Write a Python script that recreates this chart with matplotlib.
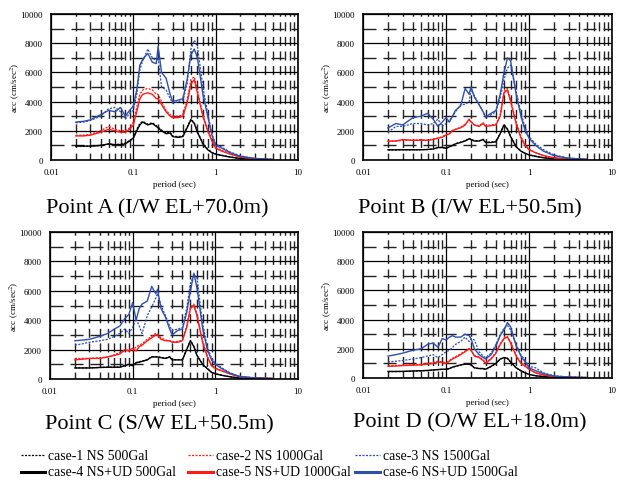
import matplotlib
matplotlib.use("Agg")
import matplotlib.pyplot as plt
from matplotlib.ticker import MultipleLocator, FixedLocator, NullFormatter, FixedFormatter
from matplotlib.lines import Line2D

plt.rcParams['font.family'] = ['Liberation Serif', 'DejaVu Serif']
plt.rcParams['mathtext.fontset'] = 'stix'
plt.rcParams['lines.scale_dashes'] = False

# Periods (sec)
period = [0.02, 0.025, 0.03, 0.04, 0.05, 0.06, 0.07, 0.08, 0.09, 0.1, 0.11, 0.12, 0.13, 0.15,
          0.17, 0.19, 0.2, 0.22, 0.25, 0.28, 0.3, 0.35, 0.4, 0.45, 0.5, 0.55, 0.6, 0.7, 0.8,
          0.9, 1.0, 1.2, 1.5, 2.0, 3.0, 5.0]

# ---- Point A ----
A_case1 = [1000, 950, 950, 1000, 1100, 1050, 1100, 1150, 1350, 1500, 2100, 2500, 2650, 2450, 2550, 2350, 2250, 2050, 1850, 1900, 1650, 1600, 1650, 2250, 2800, 2550, 1950, 1150, 750, 520, 420, 320, 210, 100, 40, 15]
A_case4 = [950, 950, 950, 1000, 1100, 1050, 1050, 1100, 1300, 1500, 2000, 2400, 2600, 2400, 2500, 2300, 2200, 2000, 1800, 1850, 1600, 1550, 1600, 2200, 2750, 2500, 1900, 1100, 700, 500, 400, 300, 200, 100, 40, 15]
A_case2 = [1700, 1700, 1750, 2000, 2300, 2100, 2000, 2000, 2200, 2600, 3600, 4500, 4800, 4900, 4800, 4500, 4500, 4000, 3400, 3100, 3000, 3000, 3100, 4100, 5500, 5700, 4800, 3100, 2100, 1400, 850, 650, 420, 210, 80, 30]
A_case5 = [1650, 1650, 1700, 1900, 2100, 2000, 1900, 1900, 2100, 2400, 3300, 4200, 4500, 4600, 4500, 4200, 4200, 3800, 3300, 3000, 2900, 2900, 3000, 3900, 5200, 5500, 4600, 3000, 2000, 1300, 800, 600, 400, 200, 80, 30]
A_case3 = [2550, 2600, 2700, 3000, 3500, 3600, 3300, 2800, 3200, 3400, 4500, 6200, 6800, 7600, 7000, 6800, 7000, 5000, 4800, 4200, 3900, 4000, 4100, 5200, 7600, 8200, 7800, 5000, 3200, 1800, 1100, 850, 550, 280, 110, 40]
A_case6 = [2600, 2650, 2750, 3100, 3400, 3300, 3600, 3000, 3400, 3700, 4800, 6500, 6900, 7300, 6700, 6600, 7800, 6000, 5600, 4500, 4000, 4100, 4200, 5500, 7200, 7600, 7000, 4500, 3000, 1700, 1000, 800, 500, 250, 100, 40]

# ---- Point B ----
B_case1 = [680, 690, 700, 700, 710, 720, 760, 860, 870, 820, 900, 1020, 1120, 1220, 1320, 1470, 1420, 1320, 1310, 1420, 1220, 1220, 1270, 1830, 2420, 2130, 1620, 920, 620, 460, 360, 260, 160, 80, 40, 20]
B_case4 = [700, 700, 700, 700, 700, 720, 750, 850, 850, 800, 900, 1000, 1100, 1200, 1300, 1450, 1400, 1300, 1300, 1400, 1200, 1200, 1250, 1800, 2400, 2100, 1600, 900, 600, 450, 350, 250, 150, 80, 40, 20]
B_case2 = [1250, 1300, 1350, 1350, 1400, 1350, 1450, 1500, 1600, 1750, 1800, 2050, 2100, 2250, 2450, 2750, 2650, 2400, 2350, 2550, 2350, 2400, 2450, 3100, 4700, 4900, 4100, 2600, 1600, 1050, 750, 500, 300, 150, 70, 40]
B_case5 = [1300, 1300, 1400, 1350, 1350, 1350, 1400, 1500, 1550, 1700, 1800, 2000, 2100, 2200, 2400, 2800, 2600, 2400, 2300, 2500, 2300, 2350, 2400, 3000, 4600, 4800, 4000, 2500, 1500, 1000, 700, 500, 300, 150, 70, 40]
B_case3 = [1900, 2300, 2300, 2500, 2500, 2400, 2500, 2800, 2300, 2500, 2700, 3000, 3300, 3800, 3800, 4000, 4800, 4400, 3800, 3300, 2900, 3100, 3300, 4300, 5500, 6300, 6500, 4700, 3200, 2200, 1600, 1100, 700, 350, 130, 50]
B_case6 = [2200, 2500, 2400, 2900, 3000, 3200, 2800, 2300, 2600, 2900, 2600, 3000, 3400, 3700, 4900, 4500, 5000, 4300, 3800, 3300, 2950, 3200, 3400, 4500, 6000, 7000, 6800, 4500, 3000, 2000, 1500, 1000, 600, 300, 120, 50]

# ---- Point C ----
C_case1 = [760, 760, 760, 790, 810, 810, 820, 920, 1020, 920, 1120, 1170, 1220, 1320, 1520, 1520, 1520, 1470, 1420, 1520, 1320, 1320, 1320, 2020, 2620, 2220, 1620, 1020, 720, 460, 360, 260, 150, 60, 30, 20]
C_case4 = [750, 750, 750, 780, 800, 800, 800, 900, 1000, 900, 1100, 1150, 1200, 1300, 1500, 1500, 1500, 1450, 1400, 1500, 1300, 1300, 1300, 2000, 2600, 2200, 1600, 1000, 700, 450, 350, 250, 150, 60, 30, 20]
C_case2 = [1400, 1400, 1400, 1450, 1500, 1650, 1800, 1900, 2000, 1900, 2200, 2300, 2400, 2700, 2900, 3100, 3050, 2800, 2650, 2600, 2550, 2550, 2650, 3600, 4900, 5100, 4400, 2600, 1550, 950, 750, 550, 350, 150, 70, 40]
C_case5 = [1300, 1350, 1400, 1400, 1500, 1600, 1700, 2000, 1900, 2100, 1900, 2200, 2300, 2600, 2800, 3000, 3000, 2700, 2600, 2600, 2500, 2500, 2600, 3500, 4800, 5000, 4300, 2500, 1500, 900, 700, 550, 350, 150, 70, 40]
C_case3 = [2300, 2400, 2500, 2600, 2700, 2900, 3100, 3400, 3100, 3500, 4100, 3600, 3100, 4300, 4900, 5500, 5800, 5000, 4300, 3600, 3300, 3400, 3500, 4800, 6500, 7100, 6900, 3800, 2200, 1400, 1100, 750, 420, 160, 80, 30]
C_case6 = [2600, 2650, 2700, 2900, 3100, 3400, 3600, 4100, 4400, 5200, 4000, 4800, 5100, 5300, 6300, 5800, 6100, 4800, 4200, 3400, 3000, 3300, 3400, 4500, 6000, 7200, 6200, 3500, 2000, 1300, 1000, 700, 400, 150, 80, 30]

# ---- Point D ----
D_case1 = [430, 440, 450, 470, 490, 510, 540, 570, 590, 590, 640, 740, 790, 890, 940, 940, 890, 690, 640, 640, 590, 790, 990, 1290, 1390, 1340, 1090, 690, 490, 340, 240, 150, 100, 50, 20, 10]
D_case4 = [450, 450, 450, 480, 500, 520, 550, 580, 600, 600, 650, 750, 800, 900, 950, 950, 900, 700, 650, 650, 600, 800, 1000, 1300, 1400, 1350, 1100, 700, 500, 350, 250, 150, 100, 50, 20, 10]
D_case2 = [850, 860, 880, 900, 950, 1000, 1050, 1150, 1100, 1050, 1200, 1350, 1450, 1650, 1850, 2000, 1950, 1550, 1450, 1250, 1050, 1350, 1750, 2350, 2750, 2850, 2450, 1550, 1050, 820, 620, 360, 210, 100, 50, 30]
D_case5 = [800, 820, 850, 880, 900, 950, 1000, 1100, 1050, 1000, 1150, 1300, 1400, 1600, 1800, 2000, 1900, 1500, 1400, 1200, 1000, 1300, 1700, 2300, 2700, 2800, 2400, 1500, 1000, 800, 600, 350, 200, 100, 50, 30]
D_case3 = [1100, 1150, 1200, 1300, 1400, 1500, 1600, 1400, 1600, 1800, 1900, 2100, 2300, 2500, 2800, 2500, 2700, 2600, 1800, 1500, 1400, 1700, 2300, 3000, 3400, 3600, 3300, 2300, 1600, 1200, 800, 700, 350, 150, 70, 30]
D_case6 = [1500, 1600, 1700, 1900, 2000, 2300, 2400, 2100, 2700, 2600, 2800, 2900, 2800, 2800, 3000, 2900, 2700, 2000, 1600, 1400, 1300, 1600, 2200, 2900, 3300, 3800, 3500, 2200, 1500, 1100, 700, 500, 300, 130, 70, 30]

titles = ["Point A (I/W EL+70.0m)", "Point B (I/W EL+50.5m)",
          "Point C (S/W EL+50.5m)", "Point D (O/W EL+18.0m)"]
labels = ["case-1 NS 500Gal", "case-2 NS 1000Gal", "case-3 NS 1500Gal",
          "case-4 NS+UD 500Gal", "case-5 NS+UD 1000Gal", "case-6 NS+UD 1500Gal"]
x_ticklabels = ["0.01", "0.1", "1", "10"]
y_ticks = [0, 2000, 4000, 6000, 8000, 10000]

panels = [
    [A_case1, A_case2, A_case3, A_case4, A_case5, A_case6],
    [B_case1, B_case2, B_case3, B_case4, B_case5, B_case6],
    [C_case1, C_case2, C_case3, C_case4, C_case5, C_case6],
    [D_case1, D_case2, D_case3, D_case4, D_case5, D_case6],
]

colors = ['#000000', '#ff1a1a', '#2e4fb0']
DOT = (0, (1.5, 1.0))
W, H = 617, 481
fig = plt.figure(figsize=(W / 100, H / 100), dpi=100)

# axes boxes in pixels: left, top, right, bottom
boxes = [(51, 15, 298, 161), (363, 15, 612, 161), (50, 233, 298, 380), (363, 233, 612, 379)]
title_pos = [(157, 209), (470, 209), (159, 425), (470, 423)]

for i, (l, t, r, b) in enumerate(boxes):
    ax = fig.add_axes([l / W, 1 - b / H, (r - l) / W, (b - t) / H])
    ax.set_xscale('log')
    ax.set_xlim(0.01, 10)
    ax.set_ylim(0, 10000)
    ax.set_yticks(y_ticks)
    ax.yaxis.set_minor_locator(MultipleLocator(1000))
    ax.xaxis.set_major_locator(FixedLocator([0.01, 0.1, 1, 10]))
    ax.xaxis.set_major_formatter(FixedFormatter(x_ticklabels))
    ax.xaxis.set_minor_formatter(NullFormatter())
    ax.tick_params(which='both', length=0, labelsize=6.5, pad=6)
    ax.xaxis.grid(True, which='major', color='k', lw=0.9)
    ax.yaxis.grid(True, which='major', color='k', lw=0.9)
    ax.xaxis.grid(True, which='minor', color='#222222', lw=1.0, ls=(1.5, (6.5, 4)))
    ax.yaxis.grid(True, which='minor', color='#222222', lw=1.0, ls=(0, (9.4, 5)))
    ax.set_axisbelow(True)
    for s in ax.spines.values():
        s.set_linewidth(1.2)
        s.set_color('k')
    data = panels[i]
    for k in range(3):
        ax.plot(period, data[k], color=colors[k], lw=0.9, ls=DOT)
        ax.plot(period, data[k + 3], color=colors[k], lw=1.0)
    ax.set_xlabel("period (sec)", fontsize=6.5, labelpad=3)
    ax.set_ylabel("acc (cm/sec$^2$)", fontsize=6.5, labelpad=-1)
    tx, ty = title_pos[i]
    fig.text(tx / W, 1 - ty / H, titles[i], fontsize=16, ha='center', va='center')

# legend: three columns, two rows (NS dotted on top, NS+UD solid below)
col_handle = [(21, 45), (188, 213), (355, 380)]
col_text = [48, 216, 383]
row_y = [456, 473]
for k in range(3):
    for row in range(2):
        y = 1 - row_y[row] / H
        x0, x1 = col_handle[k]
        if row == 0:
            ln = Line2D([x0 / W, x1 / W], [y, y], transform=fig.transFigure,
                        color=colors[k], lw=0.9, ls=DOT)
        else:
            ln = Line2D([x0 / W, x1 / W], [y, y], transform=fig.transFigure,
                        color=colors[k], lw=2.2)
        fig.add_artist(ln)
        fig.text(col_text[k] / W, y, labels[k + 3 * row], fontsize=9.9,
                 ha='left', va='center')

fig.savefig("out.png", dpi=100)
